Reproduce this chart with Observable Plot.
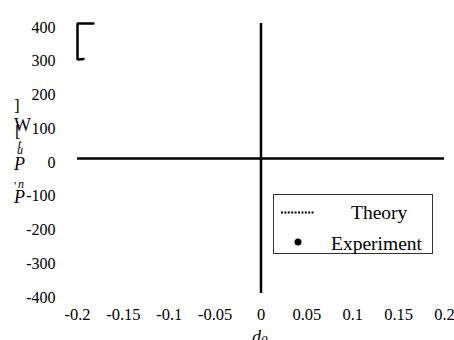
<!DOCTYPE html>
<html>
<head>
<meta charset="utf-8">
<script src="https://cdn.jsdelivr.net/npm/d3@7"></script>
<script src="https://cdn.jsdelivr.net/npm/@observablehq/plot@0.6"></script>
<style>
  html, body { margin: 0; padding: 0; background: #fff; }
  #chart { width: 454px; height: 340px; overflow: hidden; }
  #chart svg, #chart svg text { font-family: "Liberation Serif", "Times New Roman", serif; }
</style>
</head>
<body>
<div id="chart"></div>
<script>
// Tick values and labels
const xTicks = [-0.2, -0.15, -0.1, -0.05, 0, 0.05, 0.1, 0.15, 0.2];
const xTickLabels = ["-0.2", "-0.15", "-0.1", "-0.05", "0", "0.05", "0.1", "0.15", "0.2"];
const yTicks = [400, 300, 200, 100, 0, -100, -200, -300, -400];
const yTickLabels = ["400", "300", "200", "100", "0", "-100", "-200", "-300", "-400"];

// Visible trace (bracket-shaped line near top-left)
const traceX = [-0.1826, -0.2, -0.2, -0.1935];
const traceY = [400, 400, 293, 295];

// Legend entries
const seriesNames = ["Theory", "Experiment"];

const trace = traceX.map((x, i) => ({x, y: traceY[i]}));

const plot = Plot.plot({
  width: 454,
  height: 340,
  marginLeft: 77,
  marginRight: 10,
  marginTop: 23,
  marginBottom: 47,
  style: {fontSize: "16px", background: "white", color: "black", overflow: "visible"},
  x: {domain: [-0.2, 0.2]},
  y: {domain: [-400, 400]},
  marks: [
    Plot.axisX({ticks: xTicks, tickFormat: d => xTickLabels[xTicks.findIndex(t => Math.abs(t - d) < 1e-9)], tickSize: 0, tickPadding: 15, label: null, fontSize: 16.5}),
    Plot.axisY({ticks: yTicks, tickFormat: d => yTickLabels[yTicks.indexOf(d)], tickSize: 0, tickPadding: 22, dy: 4, label: null, fontSize: 16}),
    Plot.ruleY([0], {x1: -0.2, x2: 0.2, stroke: "black", strokeWidth: 2.5}),
    Plot.ruleX([0], {y1: -400, y2: 400, stroke: "black", strokeWidth: 2.5}),
    Plot.line(trace, {x: "x", y: "y", stroke: "black", strokeWidth: 2.5, strokeLinejoin: "miter"})
  ]
});

document.getElementById("chart").appendChild(plot);
const svg = d3.select(plot);

// Stacked y-axis label characters (as in the reference)
const yLabelChars = [
  {t: "]", x: 14, y: 111, s: 17, i: false},
  {t: "W", x: 14, y: 131, s: 18, i: false},
  {t: "[", x: 15, y: 137, s: 17, i: false},
  {t: "t", x: 18, y: 148, s: 12, i: true},
  {t: "u", x: 17, y: 154, s: 12, i: true},
  {t: "P", x: 14, y: 170, s: 18, i: true},
  {t: "'", x: 14, y: 190, s: 12, i: false},
  {t: "n", x: 18, y: 188, s: 12, i: true},
  {t: "P", x: 14, y: 203, s: 18, i: true}
];
svg.append("g").attr("text-anchor", "start").selectAll("text").data(yLabelChars).join("text")
  .attr("x", d => d.x).attr("y", d => d.y)
  .attr("font-size", d => d.s).attr("font-style", d => d.i ? "italic" : "normal")
  .attr("fill", "black").text(d => d.t);

// x-axis label d0
const xl = svg.append("text").attr("text-anchor", "start").attr("x", 252).attr("y", 343).attr("fill", "black").attr("font-style", "italic");
xl.append("tspan").attr("font-size", 18).text("d");
xl.append("tspan").attr("font-size", 13).attr("dy", 1).text("0");

// Legend
const lg = svg.append("g").attr("text-anchor", "start");
lg.append("rect").attr("x", 273.5).attr("y", 194.5).attr("width", 159).attr("height", 59)
  .attr("fill", "white").attr("stroke", "#333").attr("stroke-width", 1);
lg.append("line").attr("x1", 281).attr("x2", 315).attr("y1", 212.5).attr("y2", 212.5)
  .attr("stroke", "black").attr("stroke-width", 2).attr("stroke-dasharray", "2,1.4");
lg.append("circle").attr("cx", 298).attr("cy", 242).attr("r", 3.5).attr("fill", "black");
lg.append("text").attr("x", 351).attr("y", 219).attr("font-size", 19.5).attr("fill", "black").text(seriesNames[0]);
lg.append("text").attr("x", 331).attr("y", 249.5).attr("font-size", 19.5).attr("fill", "black").text(seriesNames[1]);
</script>
</body>
</html>
